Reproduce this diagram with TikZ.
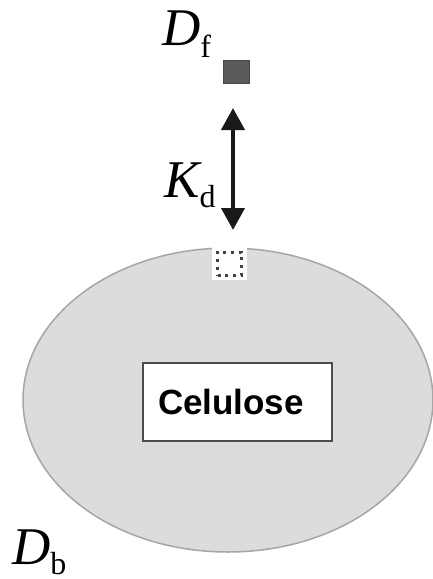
\documentclass[tikz,border=0pt]{standalone}
\usepackage{fontspec}
\setmainfont{Liberation Serif}
\newfontfamily\labelsans{Liberation Sans}
\usetikzlibrary{arrows.meta}

\definecolor{cellfill}{HTML}{DCDCDC}
\definecolor{celledge}{HTML}{A6A6A6}
\definecolor{freemol}{HTML}{5A5A5A}
\definecolor{dotgray}{HTML}{444444}

\tikzset{
  symlabel/.style={anchor=base west, inner sep=0pt, font=\fontsize{53}{53}\selectfont},
  molecule/.style={minimum width=26pt, minimum height=23pt, inner sep=0pt},
  biarrow/.style={line width=4pt, color=black!90,
    {Triangle[width=23pt,length=22pt]}-{Triangle[width=23pt,length=22pt]}},
}
% italic symbol with an upright subscript lowered by #1
\newcommand{\symsub}[3][11pt]{{\itshape #2}\raisebox{-#1}{\fontsize{32}{32}\selectfont #3}}

\begin{document}
\begin{tikzpicture}[x=1pt,y=-1pt]
  \useasboundingbox (0,0) rectangle (433,579);

  % cellulose particle
  \filldraw[fill=cellfill, draw=celledge, line width=1.5pt]
    (228,400) ellipse [x radius=205, y radius=152];

  % core label
  \node[draw=black!70, fill=white, line width=1.3pt, minimum width=189pt,
        minimum height=78pt, inner xsep=15pt, text width=159pt, align=left,
        font=\labelsans\bfseries\fontsize{35}{35}\selectfont]
    (core) at (237.5,402) {Celulose};

  % free enzyme molecule
  \node[molecule, fill=freemol, draw=freemol!80!black, line width=0.6pt]
    (free) at (236,71.5) {};

  % empty binding site on the surface
  \node[fill=white, minimum width=35pt, minimum height=33pt, inner sep=0pt]
    (site) at (229.5,263.5) {};
  \node[molecule, minimum width=24pt, draw=dotgray, line width=3pt,
        dash pattern=on 3pt off 4.8pt]
    (bound) at (site.center) {};

  % adsorption equilibrium
  \coordinate (kdtop) at (233,108);
  \coordinate (kdbot) at (233,230);
  \draw[biarrow] (kdtop) -- (kdbot);

  % symbols
  \node[symlabel] (dflabel) at (162,45) {\symsub[12pt]{D}{f}};
  \node[symlabel] (kdlabel) at (164,197) {\symsub[10pt]{K}{d}};
  \node[symlabel] (dblabel) at (12,564) {\symsub[10pt]{D}{b}};
\end{tikzpicture}
\end{document}
